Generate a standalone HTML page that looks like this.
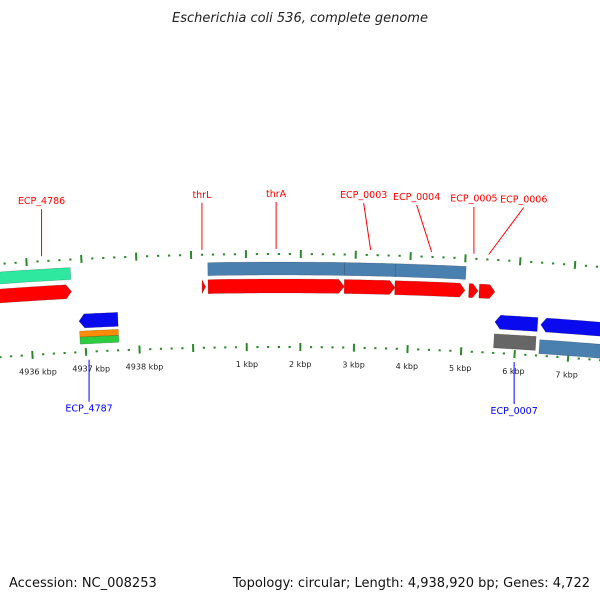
<!DOCTYPE html>
<html><head><meta charset="utf-8"><style>
html,body{margin:0;padding:0;background:#fff;width:600px;height:600px;overflow:hidden}
svg{display:block;font-family:"DejaVu Sans","Liberation Sans",sans-serif}
</style></head><body>
<svg id="map" width="600" height="600" viewBox="0 0 600 600">
<text x="300" y="22" text-anchor="middle" font-size="13" font-style="italic" fill="#222">Escherichia coli 536, complete genome</text>
<text x="9" y="587" font-size="13" fill="#111">Accession: NC_008253</text>
<text x="590" y="587" text-anchor="end" font-size="13" fill="#111">Topology: circular; Length: 4,938,920 bp; Genes: 4,722</text>
<g id="layer"></g>
</svg>
<script>
const GENOME = 4938.92;
const tickLabels = ["4936 kbp","4937 kbp","4938 kbp","1 kbp","2 kbp","3 kbp","4 kbp","5 kbp","6 kbp","7 kbp"];
const tickPositions = [4936,4937,4938,1,2,3,4,5,6,7];
const featNames = ["ECP_4786-cds","ECP_4786-gene","ECP_4787-gene","ECP_4787-orange","ECP_4787-green","thrL","thrA","thrB","thrC","ECP_0005","ECP_0006","operon-bar-1","operon-bar-2","operon-bar-3","ECP_0007","ECP_0007-bar","ECP_0008","ECP_0008-bar"];
const featStart = [4935.0,4935.0,4936.82,4936.82,4936.82,0.19,0.30,2.80,3.73,5.09,5.28,0.30,2.80,3.73,5.60,5.60,6.45,6.45];
const featEnd   = [4936.71,4936.71,4937.54,4937.54,4937.54,0.255,2.799,3.733,5.02,5.26,5.57,2.80,3.73,5.02,6.39,6.38,8.5,8.5];
const featTrack = ["teal","red","blue","orange","green","red","red","red","red","red","red","steel","steel","steel","blue","gray","blue","steel2"];
const featDir = [0,1,-1,0,0,1,1,1,1,1,1,0,0,0,-1,0,-1,0];
const labelNames = ["ECP_4786","thrL","thrA","ECP_0003","ECP_0004","ECP_0005","ECP_0006","ECP_4787","ECP_0007"];
const labelPos = [4936.2,0.20,1.55,3.27,4.38,5.15,5.42,4936.97,6.0];

const NS="http://www.w3.org/2000/svg";
const layer=document.getElementById('layer');
const R=3920, CX=280, CY=297+R, PXK=54.3, ZERO=192;
function kx(p){ if(p>GENOME/2) p-=GENOME; return ZERO+p*PXK; }
function pt(p,off){ const a=(kx(p)-CX)/R; const r=R+off; return [CX+r*Math.sin(a), CY-r*Math.cos(a)]; }
function mk(tag,attrs){const e=document.createElementNS(NS,tag);for(const k in attrs)e.setAttribute(k,attrs[k]);layer.appendChild(e);return e;}
function arcPath(s,e,o1,o2,dir){
  let pts=[];
  const N=20; let s2=s,e2=e;
  if(dir===1) e2=Math.max(s,e-0.1);
  if(dir===-1) s2=Math.min(e,s+0.1);
  for(let i=0;i<=N;i++){pts.push(pt(s2+(e2-s2)*i/N,o1));}
  if(dir===1) pts.push(pt(e,(o1+o2)/2));
  for(let i=N;i>=0;i--){pts.push(pt(s2+(e2-s2)*i/N,o2));}
  if(dir===-1) pts.push(pt(s,(o1+o2)/2));
  return 'M'+pts.map(q=>q[0].toFixed(1)+','+q[1].toFixed(1)).join('L')+'Z';
}
let bb=mk('path',{d:arcPath(4933,12,2.5,-3,0),fill:'#7a7a7a',stroke:'#555','stroke-width':0.5});


for(let i=-30;i<=45;i++){
  const p=i*0.2; const pos=p<0?GENOME+p:p;
  const major=(i%5===0);
  for(const side of [1,-1]){
    const base=side===1?43:-50;
    const a=pt(pos,base+(major?4:1)), b=pt(pos,base-(major?4:1));
    const t=mk('line',{x1:a[0],y1:a[1],x2:b[0],y2:b[1],stroke:'#2a8a2a','stroke-width':major?2:2.2});
    
    
  }
}
tickLabels.forEach((l,i)=>{
  const q=pt(tickPositions[i],-70);
  const t=mk('text',{x:q[0],y:q[1],'text-anchor':'middle','font-size':8,fill:'#222'});
  t.textContent=l;
  
  
});
const colors={teal:'#2ee8a0',red:'#f00',blue:'#0a0aee',orange:'#ff8c00',green:'#2ecc40',steel:'#4a80b0',steel2:'#4a80b0',gray:'#666'};
const offs={teal:[35,23],red:[18,4],steel:[35,22],blue:[-12,-26],orange:[-29,-35],green:[-35,-42],gray:[-31,-45],steel2:[-34,-48]};
featNames.forEach((n,i)=>{
  const o=offs[featTrack[i]];
  const f=mk('path',{d:arcPath(featStart[i],featEnd[i],o[0],o[1],featDir[i]),fill:colors[featTrack[i]],stroke:'rgba(0,0,0,0.25)','stroke-width':0.6});
  
  
});
labelNames.forEach((n,i)=>{
  const inner=n==='ECP_4787'||n==='ECP_0007';
  const col=inner?'#00f':'#f00';
  const a=pt(labelPos[i],inner?-58:48);
  let tx=a[0], ty=inner?a[1]+50:a[1]-52;
  if(n==='ECP_0006'){tx=a[0]+35;}
  if(n==='ECP_0004'){tx=a[0]-15;}
  if(n==='ECP_0003'){tx=a[0]-7;}
  const l=mk('line',{x1:a[0],y1:a[1],x2:tx,y2:inner?ty-8:ty+5,stroke:col,'stroke-width':1});
  
  
  const t=mk('text',{x:tx,y:inner?ty+2:ty,'text-anchor':'middle','font-size':9.5,fill:col});
  t.textContent=n;
  
  
});
</script>
</body></html>
